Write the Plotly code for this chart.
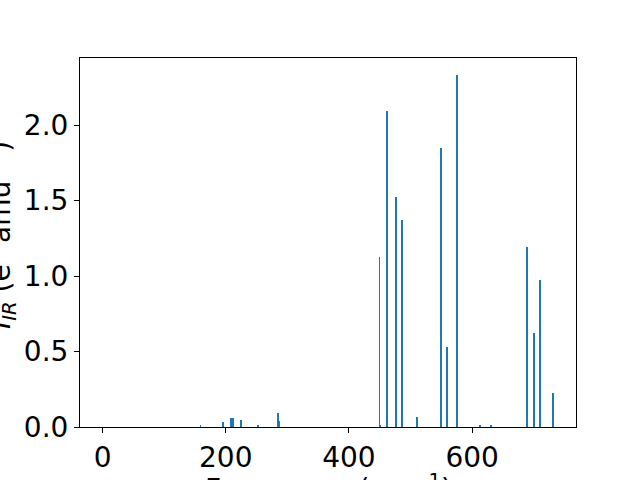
import plotly.graph_objects as go

freqs = [0, 0, 0, 159, 196, 209, 211, 225, 253, 285, 287, 449.6, 451, 461, 475.6,
         485.4, 511, 548.8, 558.5, 574.8, 612, 630, 688.6, 700, 709.8, 731]
intens = [0, 0, 0, 0.007, 0.035, 0.062, 0.06, 0.046, 0.007, 0.094, 0.038, 1.126, 0.01,
          2.093, 1.523, 1.371, 0.066, 1.848, 0.532, 2.33, 0.009, 0.015, 1.192, 0.623,
          0.974, 0.225]
xticks = [0, 200, 400, 600]
yticks = [0.0, 0.5, 1.0, 1.5, 2.0]

L, R, T, B = 80, 64, 58, 53
W, H = 640, 480
pw, ph = W - L - R, H - T - B

fig = go.Figure()
fig.add_trace(go.Bar(x=freqs, y=intens, width=1.6,
                     marker=dict(color="#1f77b4", line=dict(width=0))))

font = dict(family="DejaVu Sans", size=28, color="black")
axis_common = dict(showgrid=False, zeroline=False, showline=True, linecolor="black",
                   linewidth=1, mirror=True, ticks="outside", ticklen=5, tickwidth=1,
                   tickcolor="black", tickfont=font, automargin=False)
fig.update_layout(
    width=W, height=H, margin=dict(l=L, r=R, t=T, b=B, autoexpand=False),
    plot_bgcolor="white", paper_bgcolor="white", showlegend=False, bargap=0,
    xaxis=dict(range=[-36.6, 768.6], tickvals=xticks, ticktext=[str(v) for v in xticks],
               **axis_common),
    yaxis=dict(range=[0, 2.4447], tickvals=yticks, ticktext=[f"{v:.1f}" for v in yticks],
               **axis_common),
)
fig.add_annotation(text="<i>I</i><sub><i>IR</i></sub> (e<sup>2</sup> amu<sup>−1</sup>)",
                   xref="paper", yref="paper",
                   x=(1 - L) / pw, y=(H - B - 235) / ph, textangle=-90, showarrow=False,
                   xanchor="center", yanchor="middle", font=font)
fig.add_annotation(text="Frequency (cm<sup>−1</sup>)", xref="paper", yref="paper",
                   x=0.5, y=(H - B - 487) / ph, showarrow=False,
                   xanchor="center", yanchor="middle", font=font)
fig.write_html("out.html", config={"displayModeBar": False},
               post_script="document.body.style.margin='0';document.body.style.overflow='hidden';")
